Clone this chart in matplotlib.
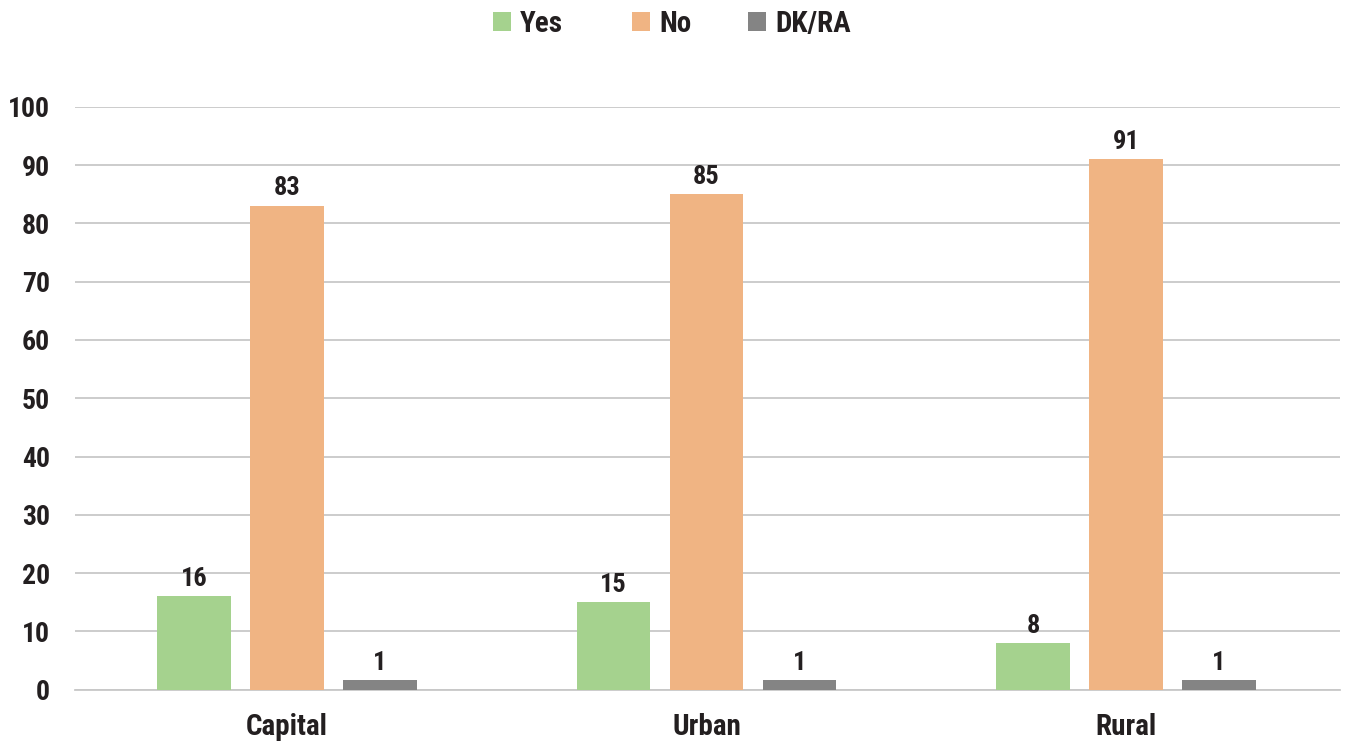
import matplotlib
matplotlib.use("Agg")
import matplotlib.pyplot as plt
import numpy as np

categories = ["Capital", "Urban", "Rural"]
series_names = ["Yes", "No", "DK/RA"]
yes_vals = [16, 15, 8]
no_vals = [83, 85, 91]
dk_vals = [1.6, 1.6, 1.6]
yes_labels = ["16", "15", "8"]
no_labels = ["83", "85", "91"]
dk_labels = ["1", "1", "1"]
y_ticks = [0, 10, 20, 30, 40, 50, 60, 70, 80, 90, 100]

colors = ["#A5D28E", "#F0B483", "#848484"]
txt_color = "#231F20"

plt.rcParams["font.family"] = ["Roboto Condensed", "DejaVu Sans"]
plt.rcParams["font.weight"] = "bold"

W, H = 1346, 743
fig = plt.figure(figsize=(W / 100, H / 100), dpi=100)
ax = fig.add_axes([75 / W, 1 - 689.7 / H, (1340 - 75) / W, (689.7 - 106.7) / H])

x = np.arange(len(categories))
offset = 0.2217
width = 0.176
data = [yes_vals, no_vals, dk_vals]
labels = [yes_labels, no_labels, dk_labels]
handles = []
for i, (vals, lab) in enumerate(zip(data, labels)):
    bars = ax.bar(x + (i - 1) * offset, vals, width, color=colors[i], label=series_names[i], zorder=3)
    handles.append(bars)
    ax.bar_label(bars, labels=lab, padding=4, fontsize=19, fontweight="bold", color=txt_color)

ax.set_xlim(-0.505, 2.510)
ax.set_ylim(0, 100)
ax.set_yticks(y_ticks)
ax.yaxis.grid(True, color="#C8C8C8", linewidth=1.3, zorder=0)
ax.set_axisbelow(True)
for s in ["top", "right", "left"]:
    ax.spines[s].set_visible(False)
ax.spines["bottom"].set_color("#C8C8C8")
ax.spines["bottom"].set_linewidth(1.3)
ax.tick_params(axis="both", length=0, labelcolor=txt_color)
ax.tick_params(axis="y", pad=18, labelsize=20)
ax.tick_params(axis="x", pad=17, labelsize=21)
ax.set_xticks(x)
ax.set_xticklabels(categories, fontweight="bold")
for t in ax.get_yticklabels():
    t.set_fontweight("bold")

leg_x = [493, 632, 748]
for h, name, lx in zip(handles, series_names, leg_x):
    leg = fig.legend([h], [name], loc="center left", bbox_to_anchor=(lx / W, 1 - 24 / H),
                     frameon=False, fontsize=21, handlelength=0.62, handleheight=0.62,
                     handletextpad=0.31, borderpad=0, borderaxespad=0)
    for t in leg.get_texts():
        t.set_fontweight("bold")
        t.set_color(txt_color)

fig.savefig("out.png", dpi=100)
